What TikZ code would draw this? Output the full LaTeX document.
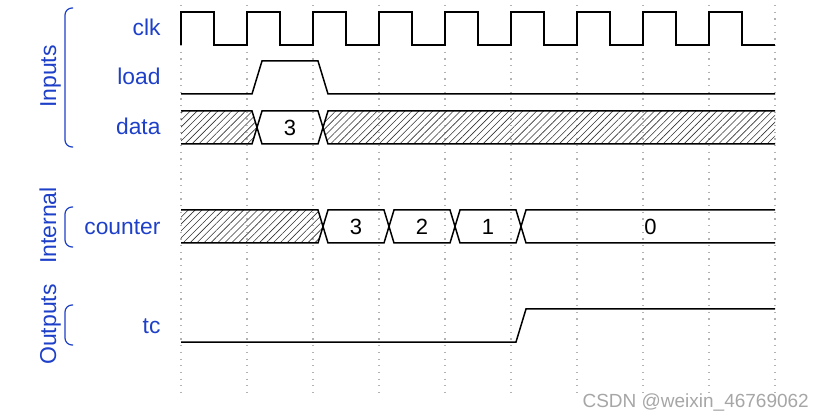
\documentclass[tikz,border=0pt]{standalone}
\usepackage{fontspec}
\setmainfont{Liberation Sans}
\usetikzlibrary{patterns.meta}
\definecolor{labelblue}{RGB}{30,64,200}

\tikzset{
  sig/.style={line width=1.5pt, line join=miter},
  gridline/.style={gray!60, line width=1.2pt, dash pattern=on 1.2pt off 5.47pt},
  hatch/.style={pattern={Lines[angle=45, distance=4.9pt, line width=0.6pt]}, pattern color=black!80},
  siglabel/.style={text=labelblue, font=\fontsize{22.8}{26}\selectfont, anchor=base east},
  grouplabel/.style={text=labelblue, font=\fontsize{23}{26}\selectfont, rotate=90, anchor=base},
  groupbrace/.style={labelblue, line width=1.2pt, rounded corners=7pt},
  busval/.style={font=\fontsize{22}{25}\selectfont}
}

% one hexagon of a bus: from crossing #1 to crossing #2, top edge at #3
\newcommand{\busbox}[3]{%
  \draw[sig] (#1,#3+16.5) -- (#1+5,#3) -- (#2-5,#3) -- (#2,#3+16.5) -- (#2-5,#3+33) -- (#1+5,#3+33) -- cycle;
}

\begin{document}
\begin{tikzpicture}[x=1pt, y=-1pt]
  \useasboundingbox (0,0) rectangle (824,419);

  % grid at the rising clock edges
  \foreach \x in {181,247,...,775}
    \draw[gridline] (\x,5) -- (\x,395);

  % group names and braces
  \node[grouplabel] (inputs) at (56,76.5) {Inputs};
  \node[grouplabel] (internal) at (56,225.5) {Internal};
  \node[grouplabel] (outputs) at (56,324.5) {Outputs};
  \draw[groupbrace] (73,8) -- (65,8) -- (65,147) -- (73,147);
  \draw[groupbrace] (73,207) -- (65,207) -- (65,247) -- (73,247);
  \draw[groupbrace] (73,305) -- (65,305) -- (65,345) -- (73,345);

  % signal names
  \node[siglabel] (clk) at (164,36) {clk};
  \node[siglabel] (load) at (164,85) {load};
  \node[siglabel] (data) at (164,135) {data};
  \node[siglabel] (counter) at (164,235) {counter};
  \node[siglabel] (tc) at (164,334) {tc};

  % clk
  \draw[sig] (181,45) \foreach \t in {181,247,...,709}{ -- (\t,12) -- (\t+33,12) -- (\t+33,45) -- (\t+66,45) };

  % load
  \draw[sig] (181,94) -- (252,94) -- (262,61) -- (318,61) -- (328,94) -- (775,94);

  % data
  \fill[hatch] (181,111) -- (252,111) -- (257,127.5) -- (252,144) -- (181,144) -- cycle;
  \draw[sig] (181,111) -- (252,111) -- (257,127.5) -- (252,144) -- (181,144);
  \busbox{257}{323}{111}
  \node[busval] (data3) at (290,127.5) {3};
  \fill[hatch] (323,127.5) -- (328,111) -- (775,111) -- (775,144) -- (328,144) -- cycle;
  \draw[sig] (775,111) -- (328,111) -- (323,127.5) -- (328,144) -- (775,144);

  % counter
  \fill[hatch] (181,210) -- (318,210) -- (323,226.5) -- (318,243) -- (181,243) -- cycle;
  \draw[sig] (181,210) -- (318,210) -- (323,226.5) -- (318,243) -- (181,243);
  \foreach \a/\b/\v in {323/389/3, 389/455/2, 455/521/1}{
    \busbox{\a}{\b}{210}
    \node[busval] (cnt\v) at ({(\a+\b)/2},226.5) {\v};
  }
  \draw[sig] (775,210) -- (526,210) -- (521,226.5) -- (526,243) -- (775,243);
  \node[busval] (cnt0) at (650.5,226.5) {0};

  % tc
  \draw[sig] (181,342) -- (516,342) -- (526,309) -- (775,309);

  \node[text=gray!70, font=\fontsize{19}{22}\selectfont, anchor=base west] (mark) at (579,407) {CSDN @weixin\_46769062};
\end{tikzpicture}
\end{document}
